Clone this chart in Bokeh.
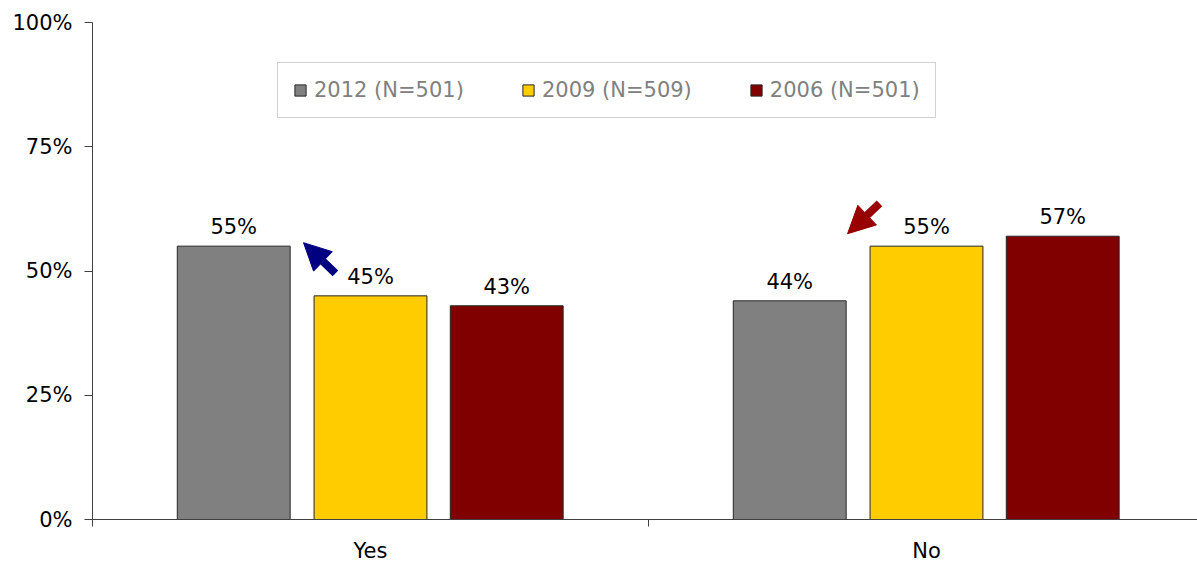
from bokeh.plotting import figure
from bokeh.models import (ColumnDataSource, Range1d, FixedTicker, PrintfTickFormatter,
                          Legend, LegendItem, Arrow, NormalHead)
from bokeh.embed import file_html
from bokeh.resources import INLINE
from bokeh.core.properties import value

# ---- data ----
categories = ["Yes", "No"]
series = ["2012 (N=501)", "2009 (N=509)", "2006 (N=501)"]
values_2012 = [55, 44]
values_2009 = [45, 55]
values_2006 = [43, 57]
y_ticks = [0, 25, 50, 75, 100]

# ---- styles ----
colors = ["#808080", "#FFCC00", "#800000"]
offsets = [-0.246, 0.0, 0.245]
bar_width = 0.203
FONT = "DejaVu Sans"
FS = "21px"

W, H = 1197, 566
p = figure(width=W, height=H, output_backend="svg", toolbar_location=None,
           x_range=Range1d(0, (W - 92) / 556), y_range=Range1d(0, 100),
           min_border_left=92, min_border_right=0, min_border_top=22, min_border_bottom=47)
p.outline_line_color = None
p.xgrid.visible = False
p.ygrid.visible = False
p.background_fill_color = "white"
p.border_fill_color = "white"

all_vals = [values_2012, values_2009, values_2006]
renderers = []
for name, vals, col, off in zip(series, all_vals, colors, offsets):
    xs = [i + 0.5 + off for i in range(len(categories))]
    src = ColumnDataSource(dict(x=xs, top=vals, lab=[f"{v}%" for v in vals]))
    r = p.vbar(x="x", top="top", width=bar_width, bottom=0, source=src,
               fill_color=col, line_color="#262626", line_width=1)
    renderers.append(r)
    p.text(x="x", y="top", text="lab", source=src, text_align="center",
           text_baseline="alphabetic", y_offset=-19, text_font=value(FONT),
           text_font_size=FS, text_color="black")

# y axis
ya = p.yaxis[0]
ya.ticker = FixedTicker(ticks=y_ticks)
ya.formatter = PrintfTickFormatter(format="%d%%")
ya.major_tick_out = 8
ya.major_tick_in = 0
ya.minor_tick_out = 0
ya.minor_tick_in = 0
ya.major_label_standoff = 12
ya.axis_line_color = "#404040"
ya.major_tick_line_color = "#404040"
ya.major_label_text_font = FONT
ya.major_label_text_font_size = FS
ya.major_label_text_color = "black"

# x axis
xa = p.xaxis[0]
xa.ticker = FixedTicker(ticks=[i + 0.5 for i in range(len(categories))],
                        minor_ticks=list(range(len(categories) + 1)))
xa.major_label_overrides = {i + 0.5: c for i, c in enumerate(categories)}
xa.major_tick_out = 0
xa.major_tick_in = 0
xa.minor_tick_out = 7
xa.minor_tick_in = 0
xa.major_label_standoff = 12
xa.axis_line_color = "#404040"
xa.minor_tick_line_color = "#404040"
xa.major_label_text_font = FONT
xa.major_label_text_font_size = FS
xa.major_label_text_color = "black"

# legend
legend = Legend(items=[LegendItem(label=s, renderers=[r]) for s, r in zip(series, renderers)],
                orientation="horizontal", location=(185, 401),
                glyph_width=14, glyph_height=14, label_height=14, label_standoff=7,
                spacing=57, padding=15, border_line_color="#A6A6A6", border_line_width=1,
                label_text_font=FONT, label_text_font_size=FS, label_text_color="#808080",
                background_fill_color="white", background_fill_alpha=1.0)
p.add_layout(legend)

# arrows (annotations)
p.add_layout(Arrow(end=NormalHead(size=27, fill_color="#000080", line_color="#000080"),
                   x_start=0.437, y_start=49.5, x_end=0.3795, y_end=55.7,
                   line_color="#000080", line_width=8))
p.add_layout(Arrow(end=NormalHead(size=27, fill_color="#990000", line_color="#990000"),
                   x_start=1.4155, y_start=63.6, x_end=1.358, y_end=57.5,
                   line_color="#990000", line_width=8))

open("out.html", "w").write(file_html(p, INLINE))
